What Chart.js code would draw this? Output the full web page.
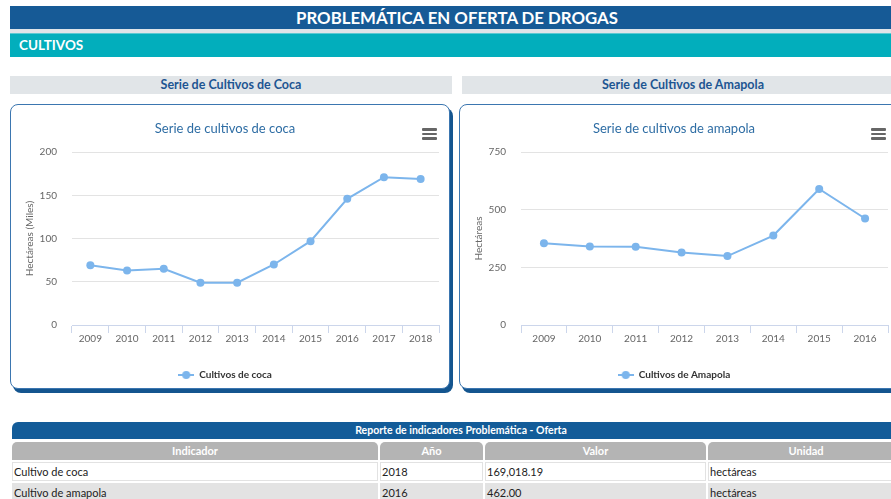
<!DOCTYPE html>
<html>
<head>
<meta charset="utf-8">
<script src="https://cdn.jsdelivr.net/npm/chart.js@4"></script>
<style>
  html, body { margin: 0; padding: 0; width: 891px; height: 499px; overflow: hidden; background: #fff; font-family: Lato, "Open Sans", sans-serif; }
  .abs { position: absolute; }
  .topbar { left: 10px; top: 6px; width: 900px; height: 23px; background: #165a96; color: #fff; font-weight: bold; font-size: 16.8px; line-height: 23px; text-align: center; }
  .topbar span { position: absolute; left: 0; width: 914px; text-align: center; }
  .sep { left: 10px; top: 29px; width: 900px; height: 4px; background: #dfe4e8; }
  .teal { left: 10px; top: 33px; width: 900px; height: 24px; background: #02aebc; border-top: 1px solid #5cc9d2; color: #fff; font-weight: bold; font-size: 13.5px; line-height: 23px; padding-left: 9px; box-sizing: border-box; }
  .sec { top: 76px; height: 18px; background: #e1e5e8; color: #1d5592; font-weight: bold; font-size: 12.5px; line-height: 18px; text-align: center; }
  .card { top: 104px; height: 285px; border: 1px solid #3b76b0; border-radius: 8px; box-shadow: 3px 4px 0 #14558f; box-sizing: border-box; background: #fff; }
  .burger { width: 15px; height: 12px; }
  .burger div { height: 2.5px; background: #666; margin-bottom: 2.2px; border-radius: 1px; }
  canvas { position: absolute; }
  .tt { left: 12px; top: 422px; width: 898px; height: 17px; background: #135c99; border-radius: 6px 0 0 0; color: #fff; font-weight: bold; font-size: 10.5px; line-height: 17px; text-align: center; }
  .th { top: 442px; height: 18px; background: #b4b4b4; border-radius: 5px 5px 0 0; color: #fff; font-weight: bold; font-size: 11px; line-height: 18px; text-align: center; }
  .td { height: 19px; border: 1px solid #e2e2e2; box-sizing: border-box; color: #222; font-size: 11px; line-height: 17px; padding-left: 1px; white-space: nowrap; }
  .r1 { top: 462px; background: #fff; }
  .r2 { top: 483px; background: #e3e3e3; border-color: #e3e3e3; }
</style>
</head>
<body>
<div class="abs topbar"><span style="left:-10px">PROBLEMÁTICA EN OFERTA DE DROGAS</span></div>
<div class="abs sep"></div>
<div class="abs teal">CULTIVOS</div>

<div class="abs sec" style="left:10px; width:442px;">Serie de Cultivos de Coca</div>
<div class="abs sec" style="left:462px; width:460px;"><span style="position:relative; left:-9px">Serie de Cultivos de Amapola</span></div>

<div class="abs card" style="left:10px; width:440px;"></div>
<div class="abs card" style="left:459px; width:440px;"></div>

<canvas id="cocaChart" width="437" height="286" style="left:11px; top:105px;"></canvas>
<canvas id="amapolaChart" width="437" height="286" style="left:460px; top:105px;"></canvas>

<div class="abs burger" style="left:422px; top:128px;"><div></div><div></div><div></div></div>
<div class="abs burger" style="left:871px; top:128px;"><div></div><div></div><div></div></div>

<div class="abs tt">Reporte de indicadores Problemática - Oferta</div>
<div class="abs th" style="left:12px; width:366px;">Indicador</div>
<div class="abs th" style="left:380px; width:103px;">Año</div>
<div class="abs th" style="left:485px; width:221px;">Valor</div>
<div class="abs th" style="left:708px; width:196px;">Unidad</div>

<div class="abs td r1" style="left:12px; width:366px;">Cultivo de coca</div>
<div class="abs td r1" style="left:380px; width:103px;">2018</div>
<div class="abs td r1" style="left:485px; width:221px;">169,018.19</div>
<div class="abs td r1" style="left:708px; width:196px;">hectáreas</div>
<div class="abs td r2" style="left:12px; width:366px;">Cultivo de amapola</div>
<div class="abs td r2" style="left:380px; width:103px;">2016</div>
<div class="abs td r2" style="left:485px; width:221px;">462.00</div>
<div class="abs td r2" style="left:708px; width:196px;">hectáreas</div>

<script>
// Datos de las series
const cocaYears = ['2009', '2010', '2011', '2012', '2013', '2014', '2015', '2016', '2017', '2018'];
const cocaValues = [69, 63, 65, 49, 49, 70, 97, 146, 171, 169];   // miles de hectáreas
const cocaTicks = [0, 50, 100, 150, 200];

const amapolaYears = ['2009', '2010', '2011', '2012', '2013', '2014', '2015', '2016'];
const amapolaValues = [355, 341, 339, 314, 299, 388, 590, 462];   // hectáreas
const amapolaTicks = [0, 250, 500, 750];

const lineColor = '#7cb5ec';

// legend marker: line with a dot in the middle
function legendMarker() {
  const c = document.createElement('canvas');
  c.width = 16; c.height = 10;
  const g = c.getContext('2d');
  g.strokeStyle = lineColor; g.lineWidth = 2;
  g.beginPath(); g.moveTo(0, 5); g.lineTo(16, 5); g.stroke();
  g.fillStyle = lineColor;
  g.beginPath(); g.arc(8, 5, 4, 0, Math.PI * 2); g.fill();
  return c;
}
const marker = legendMarker();

function makeChart(id, title, yTitle, labels, values, ticks, seriesName) {
  const ctx = document.getElementById(id).getContext('2d');
  return new Chart(ctx, {
    type: 'line',
    data: {
      labels: labels,
      datasets: [{
        label: seriesName,
        data: values,
        borderColor: lineColor,
        backgroundColor: lineColor,
        borderWidth: 2,
        pointRadius: 4,
        pointBorderWidth: 0,
        pointBackgroundColor: lineColor,
        tension: 0
      }]
    },
    options: {
      responsive: false,
      animation: false,
      layout: { padding: { left: 0, right: 9, top: 0, bottom: 1 } },
      plugins: {
        title: {
          display: true,
          text: title,
          color: '#2e6da4',
          font: { family: 'Lato', size: 13, weight: 'normal' },
          padding: { top: 16.5, bottom: 15 }
        },
        legend: {
          position: 'bottom',
          labels: {
            usePointStyle: true,
            pointStyleWidth: 16,
            boxHeight: 10,
            padding: 21,
            color: '#333',
            font: { family: 'Lato', size: 10, weight: 'bold' },
            generateLabels: chart => chart.data.datasets.map((ds, i) => ({
              text: ds.label,
              pointStyle: marker,
              fillStyle: lineColor,
              strokeStyle: lineColor,
              lineWidth: 0,
              datasetIndex: i,
              fontColor: '#333'
            }))
          }
        },
        tooltip: { enabled: false }
      },
      scales: {
        x: {
          offset: true,
          grid: { offset: true, drawOnChartArea: false, drawTicks: true, tickLength: 8, color: '#ccd6eb' },
          border: { display: true, color: '#ccd6eb' },
          ticks: { color: '#666', padding: 0, font: { family: 'Lato', size: 10 }, maxRotation: 0 },
          afterFit: s => { s.height = 24; }
        },
        y: {
          min: ticks[0],
          max: ticks[ticks.length - 1],
          afterBuildTicks: s => { s.ticks = ticks.map(v => ({ value: v })); },
          grid: { color: '#e3e3e3', drawTicks: false },
          border: { display: false },
          ticks: { color: '#666', padding: 15, font: { family: 'Lato', size: 10 } },
          title: {
            display: true,
            text: yTitle,
            color: '#666',
            font: { family: 'Lato', size: 10 },
            padding: { top: 13, bottom: 0 }
          },
          afterFit: s => { s.width = 61; }
        }
      }
    }
  });
}

makeChart('cocaChart', 'Serie de cultivos de coca', 'Hectáreas (Miles)', cocaYears, cocaValues, cocaTicks, 'Cultivos de coca');
makeChart('amapolaChart', 'Serie de cultivos de amapola', 'Hectáreas', amapolaYears, amapolaValues, amapolaTicks, 'Cultivos de Amapola');
</script>
</body>
</html>
